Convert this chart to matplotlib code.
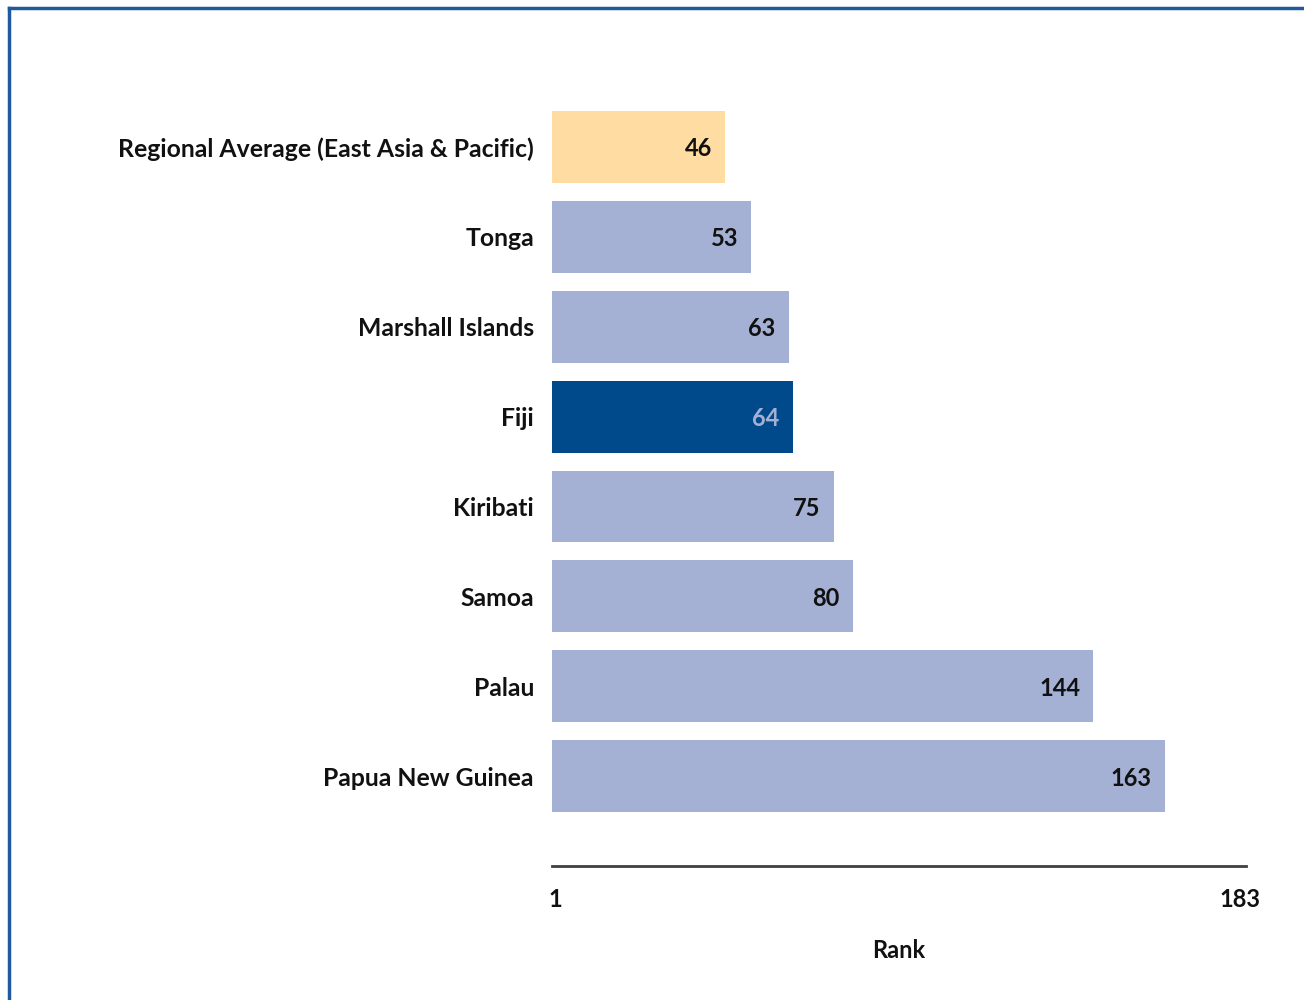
import matplotlib
matplotlib.use("Agg")
import matplotlib.pyplot as plt
from matplotlib.lines import Line2D

categories = ["Regional Average (East Asia & Pacific)", "Tonga", "Marshall Islands",
              "Fiji", "Kiribati", "Samoa", "Palau", "Papua New Guinea"]
ranks = [46, 53, 63, 64, 75, 80, 144, 163]
tick_values = [1, 183]
tick_labels = ["1", "183"]

light = "#A5B1D4"
peach = "#FFDCA2"
dark = "#004A8C"
colors = [peach] + [light] * 7
colors[3] = dark
label_colors = ["#111111"] * 8
label_colors[3] = light

plt.rcParams['font.family'] = ['Lato', 'DejaVu Sans']

fig = plt.figure(figsize=(13.04, 10), dpi=100)
ax = fig.add_axes([552/1304, 1-866/1000, (1246-552)/1304, (866-93)/1000])

ypos = list(range(len(categories)))
ax.barh(ypos, ranks, height=0.8, color=colors, edgecolor="none")
ax.set_xlim(0, 184.6)
ax.set_ylim(8, -0.6)

for y, v, c in zip(ypos, ranks, label_colors):
    ax.text(v - 3.5, y, str(v), ha="right", va="center_baseline", fontsize=17,
            fontweight="bold", color=c)

ax.set_yticks(ypos)
ax.set_yticklabels(categories, fontsize=17.8, fontweight="bold", color="#111111")
ax.tick_params(axis="y", length=0, pad=13)

ax.set_xticks(tick_values)
ax.set_xticklabels(tick_labels, fontsize=17, fontweight="bold", color="#111111")
ax.tick_params(axis="x", length=0, pad=16)
ax.set_xlabel("Rank", fontsize=17, fontweight="bold", color="#111111", labelpad=20)

for s in ["top", "right", "left"]:
    ax.spines[s].set_visible(False)
ax.spines["bottom"].set_color("#404040")
ax.spines["bottom"].set_linewidth(2)

# figure frame (left and top edges)
fig.add_artist(Line2D([9/1304, 9/1304], [0, 1-8/1000], transform=fig.transFigure,
                      color="#1F5A9E", linewidth=2.5))
fig.add_artist(Line2D([9/1304, 1], [1-8/1000, 1-8/1000], transform=fig.transFigure,
                      color="#1F5A9E", linewidth=2.5))

fig.savefig("out.png", dpi=100)
